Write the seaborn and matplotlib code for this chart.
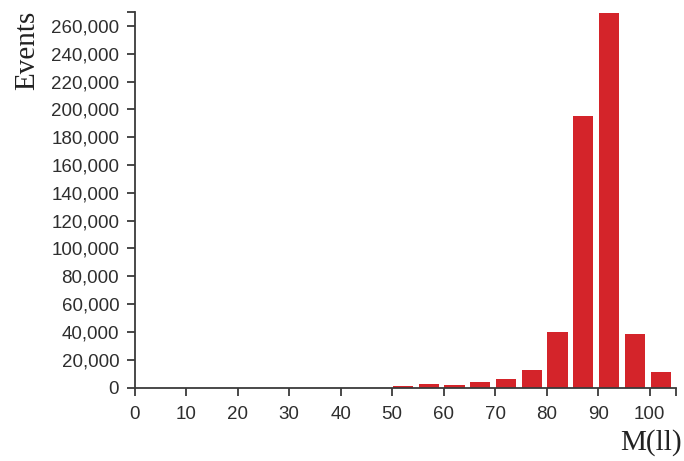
import numpy as np
import pandas as pd
import matplotlib
matplotlib.use("Agg")
import matplotlib.pyplot as plt
import seaborn as sns
from matplotlib.ticker import FuncFormatter, FixedLocator

# Data: histogram of M(ll), 5-unit bins (lower edges) and event counts
bin_edges = [50, 55, 60, 65, 70, 75, 80, 85, 90, 95, 100]
events = [800, 2300, 2200, 3700, 6500, 12300, 39800, 195500, 269300, 38500, 11000]
x_ticks = [0, 10, 20, 30, 40, 50, 60, 70, 80, 90, 100]
y_ticks = list(range(0, 260001, 20000))

sns.set_theme(style="white")
plt.rcParams['font.family'] = ['Liberation Sans', 'DejaVu Sans']

bar_color = "#d4242a"
axis_color = "#3a3a3a"

fig = plt.figure(figsize=(6.84, 4.61), dpi=100)
ax = fig.add_axes([134.5 / 684, 1 - 387.6 / 461, (675.5 - 134.5) / 684, (387.6 - 12) / 461])

df = pd.DataFrame({"center": np.array(bin_edges) + 2.1, "events": events})
sns.barplot(data=df, x="center", y="events", native_scale=True, width=0.78,
            color=bar_color, saturation=1, edgecolor="none", linewidth=0, ax=ax)

ax.set_xlim(0, 105)
ax.set_ylim(0, 270000)
ax.set_xticks(x_ticks)
ax.set_yticks(y_ticks)
ax.xaxis.set_minor_locator(FixedLocator([105]))
ax.yaxis.set_minor_locator(FixedLocator([270000]))
ax.yaxis.set_major_formatter(FuncFormatter(lambda v, p: f"{int(v):,}"))
ax.set_xlabel("")
ax.set_ylabel("")

for side in ["top", "right"]:
    ax.spines[side].set_visible(False)
for side in ["left", "bottom"]:
    ax.spines[side].set_visible(True)
    ax.spines[side].set_color(axis_color)
    ax.spines[side].set_linewidth(1.3)

ax.tick_params(axis="both", which="both", direction="out", length=6, width=1.3,
               color=axis_color, labelcolor="#2e2e2e", labelsize=13.5)
ax.tick_params(axis="x", which="both", bottom=True, pad=7)
ax.tick_params(axis="y", which="both", left=True, pad=5)
ax.grid(False)

fig.text(27 / 684, 1 - 50 / 461, "Events", rotation=90, ha="center", va="center",
         fontsize=21, family=["Liberation Serif", "DejaVu Serif"], color="#222222")
fig.text(651 / 684, 1 - 443 / 461, "M(ll)", ha="center", va="center",
         fontsize=21, family=["Liberation Serif", "DejaVu Serif"], color="#222222")

fig.savefig("out.png", dpi=100, facecolor="white")
